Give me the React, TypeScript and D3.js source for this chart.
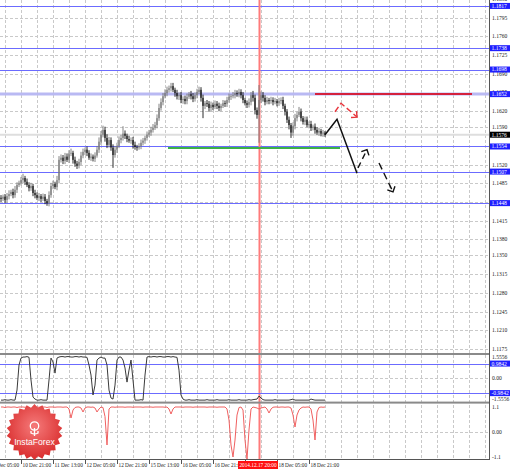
import React from "react";
import * as d3 from "d3";

// ---------- DATA ----------
const firstOpen = 1.1458;
const firstBarHour = -10; // trading hours relative to 10 Dec 21:00
const closes = [
  1.1456,1.1460,1.1454,1.1461,1.1465,1.1469,1.1463,1.1473,1.1482,1.1486,
  1.1491,1.1495,1.1488,1.1482,1.1476,1.1480,1.1467,1.1463,1.1458,1.1461,
  1.1456,1.1460,1.1452,1.1448,1.1463,1.1480,1.1484,1.1478,1.1491,1.1529,
  1.1533,1.1527,1.1535,1.1529,1.1541,1.1542,1.1529,1.1522,1.1518,1.1525,
  1.1537,1.1544,1.1548,1.1542,1.1533,1.1535,1.1531,1.1537,1.1548,1.1563,
  1.1576,1.1585,1.1570,1.1557,1.1566,1.1552,1.1538,1.1548,1.1555,1.1566,
  1.1570,1.1578,1.1574,1.1568,1.1565,1.1566,1.1557,1.1553,1.1552,1.1555,
  1.1561,1.1565,1.1570,1.1576,1.1580,1.1585,1.1589,1.1594,1.1607,1.1626,
  1.1637,1.1648,1.1654,1.1660,1.1663,1.1667,1.1660,1.1654,1.1648,1.1650,
  1.1641,1.1643,1.1639,1.1647,1.1652,1.1648,1.1643,1.1650,1.1656,1.1660,
  1.1645,1.1630,1.1635,1.1634,1.1626,1.1632,1.1628,1.1634,1.1630,1.1626,
  1.1630,1.1635,1.1634,1.1641,1.1647,1.1648,1.1650,1.1654,1.1652,1.1656,
  1.1650,1.1641,1.1635,1.1632,1.1637,1.1650,1.1645,1.1622,1.1613,1.1641,
  1.1650,1.1645,1.1637,1.1641,1.1639,1.1641,1.1637,1.1639,1.1635,1.1639,
  1.1641,1.1630,1.1619,1.1604,1.1594,1.1580,1.1592,1.1607,1.1613,1.1619,
  1.1607,1.1600,1.1604,1.1594,1.1596,1.1589,1.1591,1.1585,1.1580,1.1583,
  1.1578,1.1580,1.1576,
];
// wick extents beyond the body, in pips
const wickUp = [
  5,4,5,6,7,4,6,7,5,4, 6,8,4,6,5,6,4,6,5,6, 4,6,5,4,7,6,6,4,8,7,
  6,5,7,6,6,8,4,6,5,6, 7,6,4,6,5,6,4,6,7,8, 7,8,6,7,6,5,6,7,6,7,
  6,14,6,4,6,5,6,6,4,5, 6,5,4,6,5,6,7,6,7,8, 7,6,7,6,5,6,6,4,6,5,
  6,5,6,6,4,6,6,5,6,6, 5,6,4,6,5,6,4,6,5,6, 4,6,5,6,6,4,6,6,5,6,
  5,6,4,5,7,6,8,6,5,28, 7,6,5,6,4,6,5,6,4,6, 5,6,4,5,6,4,7,8,6,9,
  6,4,6,6,5,6,4,6,5,6, 4,5,3,
];
const wickDn = [
  6,4,6,5,6,4,6,5,6,4, 5,6,6,4,6,5,6,6,4,6, 6,4,6,5,6,5,6,4,6,6,
  5,6,6,4,6,5,7,6,6,5, 6,5,6,6,4,6,5,6,4,6, 6,5,7,6,5,6,24,5,6,4,
  6,5,6,6,4,6,7,5,6,4, 6,5,6,5,4,6,5,4,6,5, 5,6,4,6,5,6,4,7,6,7,
  6,7,6,6,4,6,6,5,6,4, 7,23,6,6,7,6,6,4,6,6, 6,4,6,6,5,6,4,6,5,6,
  6,6,4,6,5,6,7,8,7,52, 6,7,6,4,6,5,6,4,6,5, 6,6,7,6,8,10,6,6,6,4,
  6,5,6,4,6,6,5,7,4,6, 5,6,4,
];

const sub1Values = [
  -1.45,-1.45,-1.42,-1.45,-1.45,-1.42,-1.45,-1.45,-0.78,0.89,
  1.35,1.42,1.42,1.45,1.40,-0.11,-1.25,-1.38,-1.45,-1.45,
  -1.42,-1.45,-1.45,-1.45,-0.11,1.35,1.09,0.35,1.35,1.42,
  1.45,1.45,1.42,1.45,1.45,1.42,1.42,1.45,1.45,1.42,
  1.45,1.42,1.42,1.40,0.89,0.22,-1.11,-0.45,1.22,1.35,
  1.42,1.35,1.35,0.89,-0.78,-1.31,-1.38,-0.45,1.22,1.42,
  1.42,1.22,0.69,-0.25,0.55,1.22,-0.11,-1.45,-1.45,-1.45,
  -1.42,-1.45,0.22,1.42,1.45,1.42,1.45,1.45,1.42,1.45,
  1.45,1.42,1.42,1.45,1.45,1.42,1.45,1.42,1.40,0.55,
  -1.11,-1.38,-1.45,-1.45,-1.42,-1.45,-1.45,-1.45,-1.42,-1.45,
  -1.45,-1.45,-1.45,-1.42,-1.45,-1.45,-1.45,-1.45,-1.42,-1.45,
  -1.45,-1.45,-1.45,-1.45,-1.42,-1.45,-1.45,-1.45,-1.45,-1.42,
  -1.45,-1.45,-1.45,-1.45,-1.42,-1.45,-1.42,-1.40,-1.38,-1.18,
  -1.31,-1.42,-1.45,-1.45,-1.45,-1.45,-1.45,-1.42,-1.45,-1.45,
  -1.45,-1.45,-1.45,-1.45,-1.45,-1.42,-1.38,-1.45,-1.45,-1.45,
  -1.45,-1.45,-1.45,-1.45,-1.45,-1.38,-1.42,-1.45,-1.45,-1.45,
  -1.45,-1.45,-1.45,
];
const sub2Values = [
  0.98,0.98,0.96,0.98,0.98,0.97,0.98,0.98,0.96,0.98,
  0.98,0.98,0.97,0.98,0.90,0.20,0.92,0.98,0.98,0.97,
  0.98,0.98,0.98,0.96,0.98,0.98,0.98,0.97,0.98,0.98,
  0.98,0.97,0.98,0.98,0.90,0.54,0.86,0.96,0.98,0.98,
  0.94,0.78,0.94,0.98,0.98,0.97,0.98,0.94,0.78,0.90,
  0.98,0.96,0.60,-0.54,0.90,0.98,0.98,0.97,0.98,0.98,
  0.98,0.98,0.97,0.98,0.98,0.98,0.97,0.98,0.98,0.98,
  0.98,0.97,0.98,0.98,0.98,0.98,0.97,0.98,0.98,0.98,
  0.98,0.98,0.97,0.98,0.90,0.70,0.90,0.98,0.98,0.98,
  0.98,0.97,0.98,0.98,0.98,0.98,0.97,0.98,0.98,0.98,
  0.98,0.98,0.98,0.97,0.98,0.98,0.98,0.98,0.97,0.98,
  0.98,0.98,0.98,0.90,0.46,-0.54,-1.02,-0.34,0.66,0.96,
  0.98,0.86,-0.34,-1.10,0.06,0.90,0.98,0.96,0.94,0.90,
  0.94,0.96,0.98,0.90,0.74,0.90,0.97,0.98,0.98,0.97,
  0.98,0.98,0.97,0.98,0.98,0.94,0.66,0.18,0.66,0.86,
  0.94,0.98,0.97,0.98,0.98,0.90,0.46,-0.34,0.78,0.96,
  0.98,0.97,0.98,
];

const priceTicks = [1.1830,1.1795,1.1760,1.1725,1.1690,1.1655,1.1620,1.1590,1.1555,1.1520,1.1485,1.1450,1.1415,1.1380,1.1350,1.1315,1.1280,1.1245,1.1210,1.1175];
const blueLevels = [1.1817, 1.1738, 1.1698, 1.1554, 1.1507, 1.1448];
const paleLevel = 1.1652;
const bidPrice = 1.1576;
const resistanceLine = { price: 1.1652, from: 147, to: 225.5 };
const supportLine = { price: 1.1551, from: 73.5, to: 159.5 };
const forecastSolid: [number, number][] = [[152, 1.1576], [158, 1.1605], [168, 1.1504]];
const forecastRed: [number, number][] = [[157, 1.1619], [160, 1.1635], [168, 1.1609]];
const forecastDash1: [number, number][] = [[168.5, 1.1514], [173, 1.1548]];
const forecastDash2: [number, number][] = [[179, 1.1523], [186, 1.1469]];

const timeLabels = ["10 Dec 05:00","10 Dec 21:00","11 Dec 13:00","12 Dec 05:00","12 Dec 21:00","15 Dec 13:00","16 Dec 05:00","16 Dec 21:00","17 Dec 13:00","18 Dec 05:00","18 Dec 21:00"];
const timeLabelHours = [-16,0,16,32,48,64,80,96,112,128,144];
const eventHour = 119;
const eventLabel = "2014.12.17 20:00";

const sub1Range = [-1.5556, 1.5556];
const sub1Levels = [0.9842, -0.9842];
const sub1Labels = ["1.5556", "0.00", "-1.5556"];
const sub2Range = [-1.1, 1.1];
const sub2Labels = ["1.1", "0.00", "-1.1"];

// ---------- LAYOUT ----------
const W = 510, H = 470;
const PR = 489; // plot right edge
const FONT = "'Liberation Serif', serif";
const FS = 5.6;
const GRID = "#c9c9c9";

const x = d3.scaleLinear().domain([0, 100]).range([21, 221]);
const yMain = d3.scaleLinear().domain([1.1175, 1.1830]).range([349, -1]);
const ySub1 = d3.scaleLinear().domain(sub1Range).range([401.7, 355]);
const ySub2 = d3.scaleLinear().domain(sub2Range).range([459, 404]);

function arrowHead(p0: [number, number], p1: [number, number], len = 6, ang = Math.PI / 4) {
  const a = Math.atan2(p1[1] - p0[1], p1[0] - p0[0]) + Math.PI;
  const l = [p1[0] + len * Math.cos(a - ang), p1[1] + len * Math.sin(a - ang)];
  const r = [p1[0] + len * Math.cos(a + ang), p1[1] + len * Math.sin(a + ang)];
  return `M${l[0]},${l[1]}L${p1[0]},${p1[1]}L${r[0]},${r[1]}`;
}

export default function App() {
  const bars = closes.map((c, i) => {
    const o = i === 0 ? firstOpen : closes[i - 1];
    return {
      hour: firstBarHour + i,
      o, c,
      h: Math.max(o, c) + wickUp[i] * 1e-4,
      l: Math.min(o, c) - wickDn[i] * 1e-4,
    };
  });
  const gridX = d3.range(-1, 30).map((k) => x(k * 8));
  const pline = d3.line<[number, number]>().x((d) => x(d[0])).y((d) => yMain(d[1]));
  const sub1Line = d3.line<number>().x((_, i) => x(firstBarHour + i)).y((d) => ySub1(d));
  const sub2Line = d3.line<number>().x((_, i) => x(firstBarHour + i)).y((d) => ySub2(d));

  const toPx = (p: [number, number]): [number, number] => [x(p[0]), yMain(p[1])];
  const red = forecastRed.map(toPx);
  const d1 = forecastDash1.map(toPx);
  const d2 = forecastDash2.map(toPx);

  const axisLabel = (v: string, yy: number, key: string) => (
    <text key={key} x={492} y={yy} dy="0.35em" fontSize={FS} fontFamily={FONT} fill="#222">{v}</text>
  );
  const boxLabel = (v: string, yy: number, bg: string, key: string) => (
    <g key={key}>
      <rect x={490} y={yy - 3} width={20} height={6} fill={bg} />
      <text x={491.5} y={yy} dy="0.35em" fontSize={FS} fontFamily={FONT} fill="#fff">{v}</text>
    </g>
  );

  // starburst logo
  const cx = 34.5, cy = 432, nT = 22;
  const star = d3.range(nT * 2).map((k) => {
    const a = (k * Math.PI) / nT - Math.PI / 2;
    const r = k % 2 === 0 ? 28 : 24.5;
    return [cx + r * Math.cos(a), cy + r * Math.sin(a)] as [number, number];
  });
  const ex = Math.round(x(eventHour));

  return (
    <svg width={W} height={H} style={{ position: "absolute", left: 0, top: 0, background: "#fff" }}>
      <defs>
        <clipPath id="cMain"><rect x={0} y={0} width={PR} height={353} /></clipPath>
        <clipPath id="cS1"><rect x={0} y={355} width={PR} height={46.5} /></clipPath>
        <clipPath id="cS2"><rect x={0} y={403.5} width={PR} height={55.5} /></clipPath>
        <clipPath id="cAxis"><rect x={0} y={0} width={W} height={352} /></clipPath>
        <radialGradient id="lg" cx="50%" cy="40%" r="60%">
          <stop offset="0%" stopColor="#f57a7a" />
          <stop offset="100%" stopColor="#d92c2c" />
        </radialGradient>
      </defs>
      <rect x={0} y={0} width={W} height={H} fill="#fff" />

      {/* grids */}
      <g stroke={GRID} strokeWidth={1} strokeDasharray="3,2">
        {gridX.map((gx, i) => (
          <line key={"gx" + i} x1={gx + 0.5} x2={gx + 0.5} y1={0} y2={459} />
        ))}
        {priceTicks.map((t, i) => (
          <line key={"gy" + i} x1={0} x2={PR} y1={Math.round(yMain(t)) + 0.5} y2={Math.round(yMain(t)) + 0.5} />
        ))}
        <line x1={0} x2={PR} y1={Math.round(ySub1(0)) + 0.5} y2={Math.round(ySub1(0)) + 0.5} />
        <line x1={0} x2={PR} y1={Math.round(ySub2(0)) + 0.5} y2={Math.round(ySub2(0)) + 0.5} />
      </g>

      {/* main panel */}
      <g clipPath="url(#cMain)">
        <line x1={0} x2={PR} y1={yMain(bidPrice)} y2={yMain(bidPrice)} stroke="#dedede" strokeWidth={2} />
        <line x1={0} x2={PR} y1={yMain(paleLevel)} y2={yMain(paleLevel)} stroke="#b9b9f3" strokeWidth={3} />
        {blueLevels.map((v, i) => (
          <line key={"bl" + i} x1={0} x2={PR} y1={Math.round(yMain(v)) + 0.5} y2={Math.round(yMain(v)) + 0.5} stroke="#6b6bff" strokeWidth={1} />
        ))}
      </g>

      {/* event vertical line (behind candles) */}
      <rect x={ex - 0.5} y={0} width={2} height={459} fill="#ff7a7a" />

      <g clipPath="url(#cMain)">
        {bars.map((b, i) => {
          const bx = x(b.hour);
          const col = b.c >= b.o ? "#777" : "#141414";
          const top = yMain(Math.max(b.o, b.c));
          const bh = Math.max(0.8, yMain(Math.min(b.o, b.c)) - top);
          return (
            <g key={"b" + i}>
              <line x1={bx} x2={bx} y1={yMain(b.h)} y2={yMain(b.l)} stroke={col} strokeWidth={0.9} />
              <rect x={bx - 0.6} y={top} width={1.2} height={bh} fill={col} />
            </g>
          );
        })}
        <line x1={x(supportLine.from)} x2={x(supportLine.to)} y1={yMain(supportLine.price)} y2={yMain(supportLine.price)} stroke="#3db249" strokeWidth={2} />
        <line x1={x(resistanceLine.from)} x2={x(resistanceLine.to)} y1={yMain(resistanceLine.price)} y2={yMain(resistanceLine.price)} stroke="#d4213d" strokeWidth={2} />
        <path d={pline(forecastSolid) || ""} fill="none" stroke="#111" strokeWidth={1.5} />
        <path d={pline(forecastRed) || ""} fill="none" stroke="#e8333a" strokeWidth={1.4} strokeDasharray="6,3" />
        <path d={arrowHead(red[1], red[2])} fill="none" stroke="#e8333a" strokeWidth={1.4} />
        <path d={pline(forecastDash1) || ""} fill="none" stroke="#111" strokeWidth={1.4} strokeDasharray="6,4" />
        <path d={arrowHead(d1[0], d1[1])} fill="none" stroke="#111" strokeWidth={1.4} />
        <path d={pline(forecastDash2) || ""} fill="none" stroke="#111" strokeWidth={1.4} strokeDasharray="7,4" />
        <path d={arrowHead(d2[0], d2[1])} fill="none" stroke="#111" strokeWidth={1.4} />
      </g>

      {/* sub window 1 */}
      <g clipPath="url(#cS1)">
        {sub1Levels.map((v, i) => (
          <line key={"s1l" + i} x1={0} x2={PR} y1={Math.round(ySub1(v)) + 0.5} y2={Math.round(ySub1(v)) + 0.5} stroke="#6b6bff" strokeWidth={1} />
        ))}
        <path d={sub1Line(sub1Values) || ""} fill="none" stroke="#3a3a3a" strokeWidth={1} />
      </g>

      {/* sub window 2 */}
      <g clipPath="url(#cS2)">
        <path d={sub2Line(sub2Values) || ""} fill="none" stroke="#f06060" strokeWidth={1} />
      </g>

      {/* separators & frame */}
      <rect x={0} y={353} width={PR} height={2} fill="#8a8a8a" />
      <rect x={0} y={401.6} width={PR} height={2} fill="#8a8a8a" />
      <line x1={PR + 0.5} x2={PR + 0.5} y1={0} y2={460} stroke="#555" strokeWidth={1} />
      <line x1={0} x2={PR + 1} y1={459.5} y2={459.5} stroke="#555" strokeWidth={1} />

      {/* price axis */}
      <g clipPath="url(#cAxis)">
        {priceTicks.map((t, i) => axisLabel(t.toFixed(4), yMain(t), "pt" + i))}
        {blueLevels.concat([paleLevel]).map((v, i) => boxLabel(v.toFixed(4), yMain(v), "#1f1fff", "bx" + i))}
        {boxLabel(bidPrice.toFixed(4), yMain(bidPrice), "#000", "bid")}
      </g>
      {axisLabel(sub1Labels[0], 357.3, "s1a")}
      {axisLabel(sub1Labels[1], ySub1(0), "s1b")}
      {axisLabel(sub1Labels[2], 399.3, "s1c")}
      {sub1Levels.map((v, i) => boxLabel(v.toFixed(4), ySub1(v), "#1f1fff", "s1bx" + i))}
      {axisLabel(sub2Labels[0], 406.8, "s2a")}
      {axisLabel(sub2Labels[1], ySub2(0) + 1, "s2b")}
      {axisLabel(sub2Labels[2], 456.7, "s2c")}

      {/* time axis */}
      {timeLabelHours.map((h, i) => (
        <g key={"tl" + i}>
          <line x1={x(h) + 0.5} x2={x(h) + 0.5} y1={460} y2={464} stroke="#555" strokeWidth={1} />
          <text x={x(h) + 1.5} y={465.5} dy="0.35em" fontSize={5.3} fontFamily={FONT} fill="#222">{timeLabels[i]}</text>
        </g>
      ))}
      <rect x={x(eventHour) - 21} y={461} width={40} height={8} fill="#ff1010" />
      <text x={x(eventHour) - 1} y={465.2} dy="0.35em" textAnchor="middle" fontSize={5.3} fontFamily={FONT} fill="#fff">{eventLabel}</text>

      {/* logo */}
      <g>
        <path d={"M" + star.map((p) => p.join(",")).join("L") + "Z"} fill="url(#lg)" />
        <g stroke="#fff" strokeWidth={1.3} fill="none">
          <circle cx={cx} cy={cy - 6} r={4.2} />
          <path d={`M${cx},${cy - 4} L${cx},${cy + 4} M${cx - 3.5},${cy - 1} L${cx - 3.5},${cy + 1} Q${cx},${cy + 3} ${cx + 3.5},${cy + 1} L${cx + 3.5},${cy - 1}`} />
        </g>
        <text x={cx} y={cy + 10} dy="0.35em" textAnchor="middle" fontSize={8.6} fontFamily="'Liberation Sans', Arial, sans-serif" fill="#fff">InstaForex</text>
      </g>
    </svg>
  );
}
